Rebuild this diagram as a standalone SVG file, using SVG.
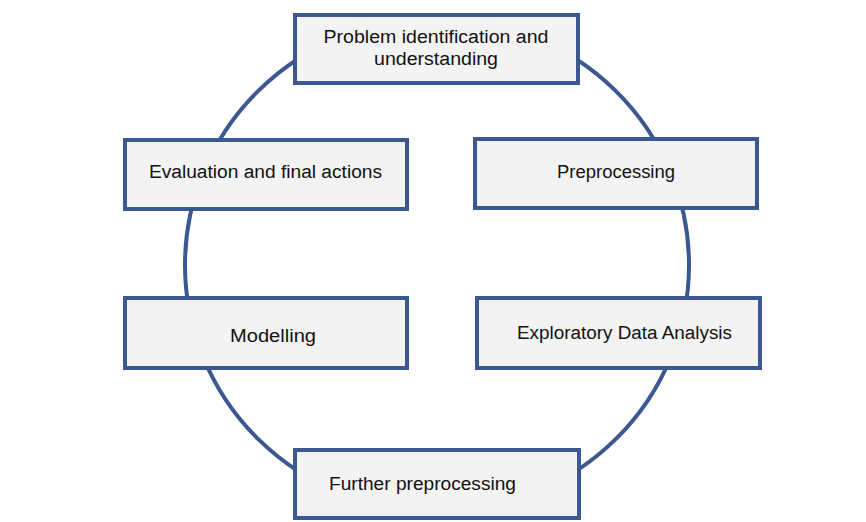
<svg xmlns="http://www.w3.org/2000/svg" width="866" height="522" viewBox="0 0 866 522">
<style>
.box{fill:#F3F3F3;stroke:#3B5893;stroke-width:4}
.ring{fill:none;stroke:#3B5893;stroke-width:4}
.t{font-family:"Liberation Sans",Arial,sans-serif;font-size:18px;fill:#111;text-anchor:middle}
</style>
<rect width="866" height="522" fill="#fff"/>
<g id="connectors">
<ellipse class="ring" cx="437" cy="265" rx="252" ry="247"/>
</g>
<g id="node-problem">
<rect class="box" x="295" y="15" width="283" height="68"/>
<text class="t" x="436" y="43" textLength="225" lengthAdjust="spacingAndGlyphs">Problem identification and</text>
<text class="t" x="436" y="65" textLength="124" lengthAdjust="spacingAndGlyphs">understanding</text>
</g>
<g id="node-preprocessing">
<rect class="box" x="475" y="139" width="282" height="69"/>
<text class="t" x="616" y="178" textLength="118" lengthAdjust="spacingAndGlyphs">Preprocessing</text>
</g>
<g id="node-eda">
<rect class="box" x="477" y="298" width="283" height="70"/>
<text class="t" x="624.5" y="339" textLength="215" lengthAdjust="spacingAndGlyphs">Exploratory Data Analysis</text>
</g>
<g id="node-further">
<rect class="box" x="295" y="450" width="284" height="68"/>
<text class="t" x="422.5" y="490" textLength="187" lengthAdjust="spacingAndGlyphs">Further preprocessing</text>
</g>
<g id="node-modelling">
<rect class="box" x="125" y="298" width="282" height="70"/>
<text class="t" x="273" y="342" textLength="86" lengthAdjust="spacingAndGlyphs">Modelling</text>
</g>
<g id="node-evaluation">
<rect class="box" x="125" y="140" width="282" height="69"/>
<text class="t" x="265.5" y="178" textLength="233" lengthAdjust="spacingAndGlyphs">Evaluation and final actions</text>
</g>
</svg>
